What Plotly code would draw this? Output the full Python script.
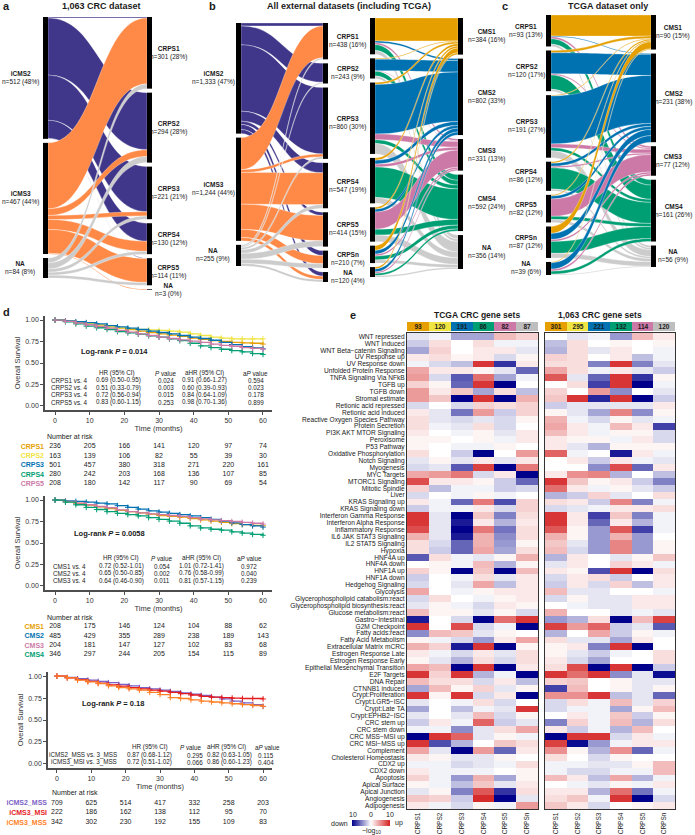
import plotly.graph_objects as go

W, H = 695, 835
FONT = "Liberation Sans, Arial, Helvetica, sans-serif"
NARROW = "Liberation Sans Narrow, Arial Narrow, Liberation Sans, sans-serif"
INK = "#1a1a1a"


def px(x):
    return x / W


def py(y):
    return 1 - y / H


# ---------------- alluvial data ----------------
icms_names = ["iCMS2", "iCMS3", "NA"]
crps_a_names = ["CRPS1", "CRPS2", "CRPS3", "CRPS4", "CRPS5", "NA"]
crps_names = ["CRPS1", "CRPS2", "CRPS3", "CRPS4", "CRPS5", "CRPSn", "NA"]
cms_names = ["CMS1", "CMS2", "CMS3", "CMS4", "NA"]

a_icms_n = ["n=512 (48%)", "n=467 (44%)", "n=84 (8%)"]
a_crps_n = ["n=301 (28%)", "n=294 (28%)", "n=221 (21%)", "n=130 (12%)", "n=114 (11%)", "n=3 (0%)"]
b_icms_n = ["n=1,333 (47%)", "n=1,244 (44%)", "n=255 (9%)"]
b_crps_n = ["n=438 (16%)", "n=243 (9%)", "n=860 (30%)", "n=547 (19%)", "n=414 (15%)", "n=210 (7%)", "n=120 (4%)"]
b_cms_n = ["n=384 (16%)", "n=802 (33%)", "n=331 (13%)", "n=592 (24%)", "n=356 (14%)"]
c_crps_n = ["n=93 (13%)", "n=120 (17%)", "n=191 (27%)", "n=86 (12%)", "n=82 (12%)", "n=87 (12%)", "n=39 (6%)"]
c_cms_n = ["n=90 (15%)", "n=231 (38%)", "n=77 (12%)", "n=161 (26%)", "n=56 (9%)"]

# rows = left axis, cols = right axis (estimated flow sizes)
flow_a = [
    [4, 240, 190, 76, 2, 0],
    [277, 28, 17, 42, 100, 3],
    [20, 26, 14, 12, 12, 0],
]
flow_b1 = [
    [35, 228, 800, 120, 40, 60, 50],
    [385, 0, 35, 382, 304, 98, 40],
    [18, 15, 25, 45, 70, 52, 30],
]
flow_b2 = [
    [240, 20, 20, 60, 41],
    [10, 120, 5, 50, 27],
    [20, 520, 60, 40, 109],
    [25, 40, 30, 320, 61],
    [20, 30, 180, 60, 70],
    [50, 40, 20, 40, 33],
    [19, 32, 16, 22, 15],
]
flow_c = [
    [55, 2, 5, 14, 6],
    [6, 55, 3, 37, 5],
    [2, 125, 10, 8, 18],
    [4, 8, 4, 55, 5],
    [3, 8, 45, 8, 8],
    [18, 16, 5, 31, 12],
    [2, 17, 5, 8, 2],
]

ICMS_COL = ["#41378A", "#FF8A47", "#CCCCCC"]
CMS_COL = ["#E69F00", "#0072B2", "#CC79A7", "#009E73", "#CCCCCC"]
CRPS_COL = ["#E69F00", "#F0E442", "#0072B2", "#009E73", "#CC79A7", "#BEBEBE"]

# ---------------- survival data ----------------
T = [0, 3, 6, 9, 12, 15, 18, 21, 24, 27, 30, 33, 36, 39, 42, 45, 48, 51, 54, 57, 60]
risk_t = [0, 10, 20, 30, 40, 50, 60]

km1_names = ["CRPS1", "CRPS2", "CRPS3", "CRPS4", "CRPS5"]
km1_cols = ["#E69F00", "#F0E442", "#0072B2", "#009E73", "#CC79A7"]
km1_surv = [
    [1.00, .985, .97, .955, .94, .92, .905, .89, .87, .855, .84, .825, .81, .79, .775, .76, .75, .74, .735, .73, .72],
    [1.00, .99, .975, .96, .94, .925, .91, .90, .89, .885, .88, .87, .86, .84, .82, .80, .79, .78, .78, .78, .78],
    [1.00, .99, .98, .97, .955, .935, .92, .905, .89, .87, .855, .84, .82, .80, .785, .765, .74, .715, .69, .675, .665],
    [1.00, .98, .955, .93, .91, .89, .865, .85, .835, .815, .80, .78, .76, .73, .70, .68, .66, .645, .63, .61, .60],
    [1.00, .985, .965, .945, .925, .905, .88, .86, .84, .82, .80, .785, .77, .755, .74, .72, .705, .695, .68, .67, .66],
]
km1_risk = [
    [236, 205, 166, 141, 120, 97, 74],
    [163, 139, 106, 82, 55, 39, 30],
    [501, 457, 380, 318, 271, 220, 161],
    [280, 242, 203, 168, 136, 107, 85],
    [208, 180, 142, 117, 90, 69, 54],
]
km1_hr = [
    ["CRPS1 vs. 4", "0.69 (0.50-0.95)", "0.024", "0.91 (0.66-1.27)", "0.594"],
    ["CRPS2 vs. 4", "0.51 (0.33-0.79)", "0.003", "0.60 (0.39-0.93)", "0.023"],
    ["CRPS3 vs. 4", "0.72 (0.56-0.94)", "0.015", "0.84 (0.64-1.09)", "0.178"],
    ["CRPS5 vs. 4", "0.83 (0.60-1.15)", "0.253", "0.98 (0.70-1.36)", "0.899"],
]
km1_logrank = "0.014"

km2_names = ["CMS1", "CMS2", "CMS3", "CMS4"]
km2_cols = ["#E69F00", "#0072B2", "#CC79A7", "#009E73"]
km2_surv = [
    [1.00, .98, .96, .94, .92, .90, .88, .865, .85, .835, .82, .81, .80, .785, .77, .755, .74, .725, .715, .705, .70],
    [1.00, .99, .985, .975, .965, .955, .935, .915, .895, .875, .86, .845, .83, .815, .795, .775, .755, .735, .715, .70, .685],
    [1.00, .985, .965, .945, .925, .91, .885, .865, .85, .84, .83, .82, .81, .795, .78, .77, .76, .75, .74, .73, .72],
    [1.00, .975, .945, .915, .89, .865, .845, .83, .815, .795, .775, .755, .73, .70, .675, .66, .65, .63, .615, .60, .59],
]
km2_risk = [
    [208, 175, 146, 124, 104, 88, 62],
    [485, 429, 355, 289, 238, 189, 143],
    [204, 181, 147, 127, 102, 83, 68],
    [346, 297, 244, 205, 154, 115, 89],
]
km2_hr = [
    ["CMS1 vs. 4", "0.72 (0.52-1.01)", "0.054", "1.01 (0.72-1.41)", "0.972"],
    ["CMS2 vs. 4", "0.65 (0.50-0.85)", "0.002", "0.76 (0.58-0.99)", "0.040"],
    ["CMS3 vs. 4", "0.64 (0.46-0.90)", "0.011", "0.81 (0.57-1.15)", "0.239"],
]
km2_logrank = "0.0058"

km3_names = ["iCMS2_MSS", "iCMS3_MSI", "iCMS3_MSS"]
km3_cols = ["#7B61C6", "#E41A1C", "#FF7F27"]
km3_surv = [
    [1.00, .985, .97, .955, .94, .925, .905, .89, .87, .855, .84, .825, .81, .795, .78, .76, .74, .715, .695, .675, .655],
    [1.00, .98, .96, .94, .92, .90, .885, .87, .855, .84, .83, .815, .80, .785, .77, .76, .755, .75, .745, .745, .74],
    [1.00, .98, .955, .935, .915, .89, .87, .855, .84, .815, .79, .755, .745, .73, .715, .705, .695, .685, .675, .665, .655],
]
km3_risk = [
    [709, 625, 514, 417, 332, 258, 203],
    [222, 186, 162, 138, 112, 95, 70],
    [342, 302, 230, 192, 155, 109, 83],
]
km3_hr = [
    ["iCMS2_MSS vs. 3_MSS", "0.87 (0.68-1.12)", "0.295", "0.82 (0.63-1.05)", "0.115"],
    ["iCMS3_MSI vs. 3_MSS", "0.72 (0.51-1.02)", "0.066", "0.86 (0.60-1.23)", "0.404"],
]
km3_logrank = "0.18"

# ---------------- heatmap data ----------------
gene_sets = [
    "WNT repressed", "WNT induced", "WNT Beta−catenin Signaling", "UV Response up",
    "UV Response down", "Unfolded Protein Response", "TNFA Signaling Via NFkB", "TGFB up",
    "TGFB down", "Stromal estimate", "Retionic acid repressed", "Retionic acid induced",
    "Reactive Oxygen Species Pathway", "Protein Secretion", "PI3K AKT MTOR Signaling",
    "Peroxisome", "P53 Pathway", "Oxidative Phosphorylation", "Notch Signaling", "Myogenesis",
    "MYC Targets", "MTORC1 Signaling", "Mitotic Spindle", "Liver", "KRAS Signaling up",
    "KRAS Signaling down", "Interferon Gamma Response", "Interferon Alpha Response",
    "Inflammatory Response", "IL6 JAK STAT3 Signaling", "IL2 STAT5 Signaling", "Hypoxia",
    "HNF4A up", "HNF4A down", "HNF1A up", "HNF1A down", "Hedgehog Signaling", "Glycolysis",
    "Glycerophospholipid catabolism:react", "Glycerophospholipid biosynthesis:react",
    "Glucose metabolism:react", "Gastro−Intestinal", "G2M Checkpoint", "Fatty acids:react",
    "Fatty Acid Metabolism", "Extracellular Matrix mCRC", "Estrogen Response Late",
    "Estrogen Response Early", "Epithelial Mesenchymal Transition", "E2F Targets", "DNA Repair",
    "CTNNB1 induced", "Crypt:Proliferation", "Crypt:LGR5−ISC", "Crypt:Late TA",
    "Crypt:EPHB2−ISC", "CRC stem up", "CRC stem down", "CRC MSS−MSI up", "CRC MSI−MSS up",
    "Complement", "Cholesterol Homeostasis", "CDX2 up", "CDX2 down", "Apoptosis",
    "Apical Surface", "Apical Junction", "Angiogenesis", "Adipogenesis",
]
heat_cols = ["CRPS1", "CRPS2", "CRPS3", "CRPS4", "CRPS5", "CRPSn"]
tcga_counts = [93, 120, 191, 86, 82, 87]
crc_counts = [301, 295, 221, 132, 114, 120]

tcga_z = [
    [-1, -0.5, -3.5, -3.5, 3, 2], [-2, 1.5, 0, 1.5, -0.5, -0.5], [-3.5, 2, 0, 1, 1, -1],
    [1, 1.5, 0.5, 1, -1.5, 0.5], [-0.5, -1.5, -2.5, 9, -8, 1], [4, 1, 1, 0.5, -1, -6],
    [4.5, -1.5, -6.5, 6.5, -3.5, -0.5], [2, 0.5, -6, 9, -10, 0], [4.5, 1, 2.5, -3.5, 1.5, -2.5],
    [4.5, 2.5, -10, 9, -10, 3.5], [-1.5, 0, -1.5, 2, 1.5, 2], [1, -1, -5.5, 4.5, -2, 2],
    [1.5, -1, -1.5, -1, -1.5, 0.5], [1.5, -0.5, -1, 1.5, -1.5, 0], [1, 0, -0.5, 0.5, -1, 1],
    [0.5, 0.5, 0, 0.5, -0.5, 1], [0.5, 0, -0.5, -0.5, 0.5, 0], [1.5, 0, -2, -10, 0, 4.5],
    [-1, 0.5, -1, 1, -1, 1], [-1.5, -1, -6.5, 8.5, -10, 6], [4, 4.5, 6, -1.5, 1, -10],
    [8, 1, 1, 0.5, -2, -6], [2, -2.5, -0.5, -0.5, -2, -1.5], [-1.5, 0, -0.5, 0.5, -0.5, 0],
    [1, -0.5, -6, 6, -7, 2], [-2, -0.5, -0.5, 1, -1.5, 2], [9, -1, -10, 2.5, -5, 1.5],
    [9, -1, -9, 1, -3, 1], [8, -1, -10, 6, -5.5, 1.5], [3.5, -1, -9, 3.5, -4.5, 1.5],
    [1.5, -1.5, -6, 3.5, -4, 0.5], [1.5, -2, -6, 4, -3.5, 1.5], [-6.5, 1.5, -0.5, -1, 0.5, 3.5],
    [0, 0.5, -0.5, 3, -3, 0.5], [2, 0.5, -10, 2.5, -10, 3], [-2, 0, -0.5, 1.5, -1, 1],
    [-1.5, 0, -1, 4, -2.5, 1], [4, 0, -0.5, 0.5, 1, 1], [-1.5, 1.5, 0, -0.5, 0.5, 1],
    [-1, 0.5, -0.5, -1.5, 1, 0.5], [3, 0.5, 0.5, -1, 0.5, -1.5], [-9, 0, -1.5, -10, 6.5, 9],
    [9, 0, 8, -1.5, -0.5, -10], [-4.5, 3, 2.5, -1, 0.5, 0], [0.5, -0.5, -1.5, -4, 1, 4],
    [3.5, 2, -9, 9, -10, 0.5], [1, -0.5, -1.5, 1, -1, 1.5], [0.5, -1, -3, 1.5, -1.5, 1.5],
    [4, 3, -10, 9, -10, 1], [9, 2, 9, -3, -0.5, -10], [3, 1.5, 1.5, -1.5, 1, -2.5],
    [-3.5, 3, 0.5, 2, -1, 0.5], [9, 0.5, 9, -1.5, 1, -10], [-1, 0, -0.5, 1.5, -1.5, 0],
    [-3.5, 0, -2.5, -0.5, -1, 9], [-1, 0, -1, 3, -1.5, 0.5], [-2, 1, -0.5, 7, -2, -1],
    [-0.5, -0.5, -4.5, -1, 1.5, 4], [-10, 9, 7, -1, 0.5, -0.5], [9, -7, -3, 0, 2.5, 1.5],
    [4, -1, -10, 4.5, -6, 1], [1, 0.5, -1, -1, 0.5, 0], [-0.5, -0.5, -1.5, -1, -0.5, 1.5],
    [1, -0.5, -0.5, -0.5, 0, 0.5], [2, -0.5, -4, 3.5, -3.5, 0.5], [0.5, -0.5, -2.5, 2.5, -1, 1],
    [-1, 0.5, -5, 7.5, -8, 1.5], [2.5, 2, -2, 9.5, -10, -1], [1, -0.5, -1.5, 0.5, -0.5, 4.5],
]
crc_z = [
    [0, -1, -0.5, -4, 3, 1], [-2.5, 1.5, 0, 0.5, 0, 0.5], [-3, 1.5, -1, 1, 0, -0.5],
    [2, 1.5, 0, 1, -2.5, -0.5], [1.5, 1.5, -5, 9, -5, -1], [4, 1.5, -0.5, 1, -1, -2],
    [7.5, -1, -6, 9, -8, 0.5], [0, 1.5, -7.5, 9, -10, -0.5], [2, 0, 4.5, -4.5, 0, -1],
    [2.5, 9, -8.5, 9, -10, -2], [-2, -1, -1, -1, -1, 1], [0.5, -1, -3.5, 5.5, -4.5, 0.5],
    [3.5, -0.5, -1.5, 0.5, -1, -0.5], [4, 1, -0.5, 3, 1, -7.5], [3, 1, -0.5, 0.5, 0.5, -1.5],
    [1, 0.5, 0.5, -0.5, 1, -1.5], [1, -1, -3, 0.5, 0.5, 0.5], [7, -0.5, 0, -9, 1, -0.5],
    [0, 1, -2, 1, -0.5, -1], [0, 0, -4.5, 8, -6, 1], [1, 5, 5.5, -3, 0, -2.5],
    [9, 2.5, 0.5, 1, -2, -5], [6.5, 1, -0.5, 0.5, -1, -2], [-3, -2, 2, -1, 0, 1.5],
    [1.5, 1, -2, 5.5, -5, -0.5], [-1.5, -1, -0.5, 1, 1, 1.5], [9, 1, -7.5, 2.5, -5, -0.5],
    [9, 1, -6, 1, -3, -0.5], [7.5, 0.5, -4, 7.5, -7.5, -0.5], [3.5, 0.5, -4, 3.5, -4, 0],
    [2.5, -1, -4, 5.5, -4, 0.5], [3, -1.5, -4, 5.5, -4, 0.5], [-3, 1, 0, -1, 0.5, 2.5],
    [-1, 1, 0, 2, 1, -0.5], [1, 0.5, -7, 9, -10, 1.5], [-1.5, 1, 1.5, -2, 0, 1],
    [-2, 1, -1.5, 2, -2.5, 1], [3, -1, -1, 0, 0, -0.5], [-1.5, 0.5, -1, -1, 1, 1],
    [0, -0.5, -1, -1, 1, 1], [3.5, 0, 0, -1, -0.5, -1], [-4, -3, 1.5, -10, 3, 8.5],
    [8.5, 4.5, 7, -2, -1, -6.5], [-3, 0, 4, -2, 0.5, -0.5], [1.5, -1, -1, -3.5, 1, 0],
    [0.5, 1, -5, 9, -10, 0], [0.5, -1, -2, -0.5, 0, 1.5], [1, -1.5, -3.5, 0, 0, 1.5],
    [1.5, 8, -10, 9, -10, -2], [9, 6.5, 9, -4.5, -1, -9.5], [2, 2.5, 0, 0.5, -1, -1],
    [-7.5, 3, 0, 0.5, -1, 0.5], [5, 5, 9, -2.5, -1, -6], [-1.5, 1.5, -0.5, 3, -1, 2],
    [-1.5, -0.5, -0.5, -3.5, 0.5, 3], [0, 1, -0.5, 2.5, -2, 0.5], [-5, 2, -0.5, 3, -3, 1.5],
    [1, -2, -0.5, -3, 3, 0], [-10, 9, 9, -1.5, 1, -0.5], [8.5, -9.5, -4, -0.5, 1, 1],
    [5, 0.5, -3, 5, -6, -0.5], [1.5, 0, -1.5, 0.5, 0, 0], [-0.5, -0.5, -1, -1, 0.5, 3],
    [-0.5, -1.5, -1.5, -0.5, -0.5, 3], [3, 1, -2.5, 4, -3, -0.5], [0, -0.5, -1, 0.5, -0.5, 1],
    [1, 1, -3, 6.5, -5.5, -0.5], [1.5, 2.5, -0.5, 9, -10, -1.5], [2.5, 1, -1.5, 0, 0.5, 1],
]

fig = go.Figure()
annotations = []


def ann(x, y, text, size=7, xanchor="center", color=INK, family=FONT, yanchor="middle"):
    annotations.append(dict(
        x=px(x), y=py(y), xref="paper", yref="paper", text=text, showarrow=False,
        xanchor=xanchor, yanchor=yanchor, font=dict(size=size, color=color, family=family),
    ))


# ---------------- alluvial panels ----------------
def alluvial(flows, link_cols, by_source, x0, x1, ytop, ybot, thick=5, pad=4):
    n_s, n_t = len(flows), len(flows[0])
    s_tot = [sum(r) for r in flows]
    t_tot = [sum(flows[i][j] for i in range(n_s)) for j in range(n_t)]
    hpx = ybot - ytop
    wpx = x1 - x0
    ky = (hpx - (max(n_s, n_t) - 1) * pad) / sum(s_tot)

    def centers(tots):
        out, y = [], 0.0
        for v in tots:
            h = v * ky
            out.append((y + h / 2) / hpx)
            y += h + pad
        return out

    ys_s, ys_t = centers(s_tot), centers(t_tot)
    xs = [thick / 2 / wpx] * n_s + [1 - thick / 2 / wpx] * n_t
    src, tgt, val, col = [], [], [], []
    for i in range(n_s):
        for j in range(n_t):
            if flows[i][j] > 0:
                src.append(i)
                tgt.append(n_s + j)
                val.append(flows[i][j])
                col.append(link_cols[i] if by_source else link_cols[j])
    fig.add_trace(go.Sankey(
        arrangement="fixed",
        domain=dict(x=[px(x0), px(x1)], y=[py(ybot), py(ytop)]),
        node=dict(label=[""] * (n_s + n_t), x=xs, y=ys_s + ys_t, pad=pad, thickness=thick,
                  color="black", line=dict(width=0), hoverinfo="skip"),
        link=dict(source=src, target=tgt, value=val, color=col,
                  line=dict(color="white", width=0.3), hoverinfo="skip"),
    ))
    return [ytop + c * hpx for c in ys_s], [ytop + c * hpx for c in ys_t]


def node_labels(names, ns, ys, x):
    for nm, n, y in zip(names, ns, ys):
        ann(x, y, "<b>%s</b><br>%s" % (nm, n), size=6.5)


ly, ry = alluvial(flow_a, ICMS_COL, True, 43, 152, 17, 290)
node_labels(icms_names, a_icms_n, ly, 20)
node_labels(crps_a_names, a_crps_n, ry, 168)

ly, ry = alluvial(flow_b1, ICMS_COL, True, 236, 328, 23, 282)
node_labels(icms_names, b_icms_n, ly, 213)
node_labels(crps_names, b_crps_n, ry, 348)

ly, ry = alluvial(flow_b2, CMS_COL, False, 370, 463, 18, 277)
node_labels(cms_names, b_cms_n, ry, 486)

ly, ry = alluvial(flow_c, CMS_COL, False, 546, 656, 15, 275)
node_labels(crps_names, c_crps_n, ly, 526)
node_labels(cms_names, c_cms_n, ry, 673)

for lab, x, y in [("a", 6, 6), ("b", 212, 6), ("c", 505, 6), ("d", 6, 312), ("e", 353, 315)]:
    ann(x, y, "<b>%s</b>" % lab, size=11)
ann(101, 6, "<b>1,063 CRC dataset</b>", size=9)
ann(349, 6, "<b>All external datasets (including TCGA)</b>", size=9)
ann(608, 6, "<b>TCGA dataset only</b>", size=9)

# ---------------- Kaplan-Meier panels ----------------
layout_axes = {}
AX = "#4d4d4d"


def km_panel(k, names, cols, surv, risk, hr_rows, logrank, g):
    xa, ya = 2 * k - 1, 2 * k
    xk = "x" if xa == 1 else "x%d" % xa
    yk = "y" if xa == 1 else "y%d" % xa
    xr_k, yr_k = "x%d" % ya, "y%d" % ya
    for nm, c, s in zip(names, cols, surv):
        fig.add_trace(go.Scatter(
            x=T, y=s, mode="lines+markers", xaxis=xk, yaxis=yk, hoverinfo="skip",
            line=dict(color=c, width=1.3, shape="hv"),
            marker=dict(symbol="cross-thin", size=4, line=dict(width=1, color=c)),
        ))
    for nm, c, r in zip(names, cols, risk):
        fig.add_trace(go.Scatter(
            x=risk_t, y=[nm] * len(r), mode="text", text=[str(v) for v in r],
            textfont=dict(size=7, color=INK), xaxis=xr_k, yaxis=yr_k, hoverinfo="skip",
        ))
    xname = "xaxis" if xa == 1 else "xaxis%d" % xa
    yname = "yaxis" if xa == 1 else "yaxis%d" % xa
    layout_axes[xname] = dict(
        domain=[px(g["x0"]), px(g["x1"])], anchor=yk, range=g["xr"],
        tickvals=risk_t, showline=True, linecolor=AX, linewidth=1.5, ticks="outside",
        ticklen=3, tickcolor=AX, tickfont=dict(size=7, color="#333"), showgrid=False,
        zeroline=False,
        title=dict(text="Time (months)", font=dict(size=7.5, color="#333"), standoff=g["st"]),
    )
    layout_axes[yname] = dict(
        domain=[py(g["yb"]), py(g["yt"])], anchor=xk, range=[-0.047, 1.047],
        tickvals=[0, 0.25, 0.5, 0.75, 1.0], tickformat=".2f", showline=True, linecolor=AX,
        linewidth=1.5, ticks="outside", ticklen=3, tickcolor=AX,
        tickfont=dict(size=7, color="#333"), showgrid=False, zeroline=False,
        title=dict(text="Overall Survival", font=dict(size=7.5, color="#333"), standoff=4),
    )
    layout_axes["xaxis%d" % ya] = dict(
        domain=[px(g["x0"]), px(g["x1"])], anchor=yr_k, matches=xk, visible=False)
    layout_axes["yaxis%d" % ya] = dict(
        domain=[py(g["rb"]), py(g["rt"])], anchor=xr_k, type="category",
        categoryorder="array", categoryarray=names, range=[len(names) - 0.5, -0.5],
        tickvals=names,
        ticktext=["<b><span style='color:%s'>%s</span></b>" % (c, n) for n, c in zip(names, cols)],
        showline=False, ticks="", showgrid=False, zeroline=False, tickfont=dict(size=7),
    )
    ann(g["nar"][0], g["nar"][1], "Number at risk", size=7, xanchor="left")
    ann(g["lr"][0], g["lr"][1], "<b>Log-rank <i>P</i> = %s</b>" % logrank, size=7.5, xanchor="left")
    heads = ["HR (95% CI)", "<i>P</i> value", "aHR (95% CI)", "a<i>P</i> value"]
    for h, x in zip(heads, g["hx"]):
        ann(x, g["hy"], h, size=6.3, family=NARROW)
    for i, row in enumerate(hr_rows):
        y = g["ry0"] + g["rdy"] * i
        ann(g["lab"][0], y, row[0], size=6.3, xanchor=g["lab"][1], family=NARROW)
        for txt, x in zip(row[1:], g["cx"]):
            ann(x, y, txt, size=6.3, family=NARROW)


km_panel(1, km1_names, km1_cols, km1_surv, km1_risk, km1_hr, km1_logrank, dict(
    x0=45, x1=272, xr=[-2.9, 62.6], yt=316, yb=410, st=2, rt=442, rb=488,
    nar=(45, 437), lr=(79, 351), hy=373, hx=[117, 166, 204, 255],
    ry0=380.5, rdy=7.2, lab=(49, "left"), cx=[118, 166, 204, 256]))
km_panel(2, km2_names, km2_cols, km2_surv, km2_risk, km2_hr, km2_logrank, dict(
    x0=45, x1=272, xr=[-2.9, 62.6], yt=496, yb=590, st=0, rt=622, rb=659,
    nar=(45, 617), lr=(72, 533), hy=558, hx=[121, 162, 201, 249],
    ry0=566, rdy=7.4, lab=(51, "left"), cx=[121, 162, 201, 249]))
km_panel(3, km3_names, km3_cols, km3_surv, km3_risk, km3_hr, km3_logrank, dict(
    x0=48, x1=272, xr=[-2.6, 62.6], yt=672, yb=768, st=0, rt=798, rb=827,
    nar=(50, 792), lr=(80, 703), hy=747, hx=[150, 191, 226, 267],
    ry0=755, rdy=7.3, lab=(119, "right"), cx=[149, 195, 229, 266]))

# ---------------- heatmaps ----------------
HEAT_SCALE = [[0, "#00008B"], [0.5, "#FFFFFF"], [1, "#D42020"]]
head_scale = [[i / 5, c] for i, c in enumerate(CRPS_COL)]


def heat_panel(xi, yi, yhi, z, counts, x0, x1, show_labels):
    xk, yk, yhk = "x%d" % xi, "y%d" % yi, "y%d" % yhi
    fig.add_trace(go.Heatmap(
        z=z, x=heat_cols, y=gene_sets, coloraxis="coloraxis", xaxis=xk, yaxis=yk,
        hoverinfo="skip",
    ))
    fig.add_trace(go.Heatmap(
        z=[list(range(6))], x=heat_cols, y=["n"], colorscale=head_scale, zmin=0, zmax=5,
        showscale=False, text=[[str(c) for c in counts]], texttemplate="<b>%{text}</b>",
        textfont=dict(size=6.5, color=INK), xaxis=xk, yaxis=yhk, hoverinfo="skip",
    ))
    layout_axes["xaxis%d" % xi] = dict(
        domain=[px(x0), px(x1)], anchor=yk, tickangle=-90, tickfont=dict(size=6.5, color=INK),
        showline=True, mirror=True, linecolor="#333", linewidth=1, ticks="",
        showgrid=False, zeroline=False,
    )
    layout_axes["yaxis%d" % yi] = dict(
        domain=[py(809), py(333)], anchor=xk, autorange="reversed",
        tickmode="array", tickvals=gene_sets,
        showticklabels=show_labels, tickfont=dict(size=6.6, color=INK),
        showline=True, mirror=True, linecolor="#333", linewidth=1, ticks="",
        showgrid=False, zeroline=False,
    )
    layout_axes["yaxis%d" % yhi] = dict(
        domain=[py(331), py(322)], anchor=xk, visible=False)


heat_panel(7, 7, 8, tcga_z, tcga_counts, 407, 538, True)
heat_panel(8, 9, 10, crc_z, crc_counts, 545, 675, False)
ann(477, 315, "<b>TCGA CRC gene sets</b>", size=8.5)
ann(600, 315, "<b>1,063 CRC gene sets</b>", size=8.5)

ann(353, 814, "10", size=7)
ann(371, 814, "0", size=7)
ann(390, 814, "10", size=7)
ann(350, 823, "down", size=7, xanchor="right")
ann(393, 823, "up", size=7, xanchor="left")
ann(371, 831, "−log<sub>10</sub>", size=7)

fig.update_layout(
    width=W, height=H, margin=dict(l=0, r=0, t=0, b=0),
    paper_bgcolor="white", plot_bgcolor="white",
    font=dict(family=FONT, color=INK, size=7),
    showlegend=False, hovermode=False,
    annotations=annotations,
    coloraxis=dict(
        colorscale=HEAT_SCALE, cmin=-10, cmax=10,
        colorbar=dict(orientation="h", x=px(352), xanchor="left", y=py(826), yanchor="bottom",
                      len=38 / W, lenmode="fraction", thickness=6, thicknessmode="pixels",
                      outlinewidth=0, showticklabels=False, ticks="", xpad=0, ypad=0),
    ),
    **layout_axes,
)

# the page body has a default 8px margin; drop it so the figure fills the window
fig.write_html("out.html", config={"displayModeBar": False},
               post_script="document.body.style.margin='0';")
